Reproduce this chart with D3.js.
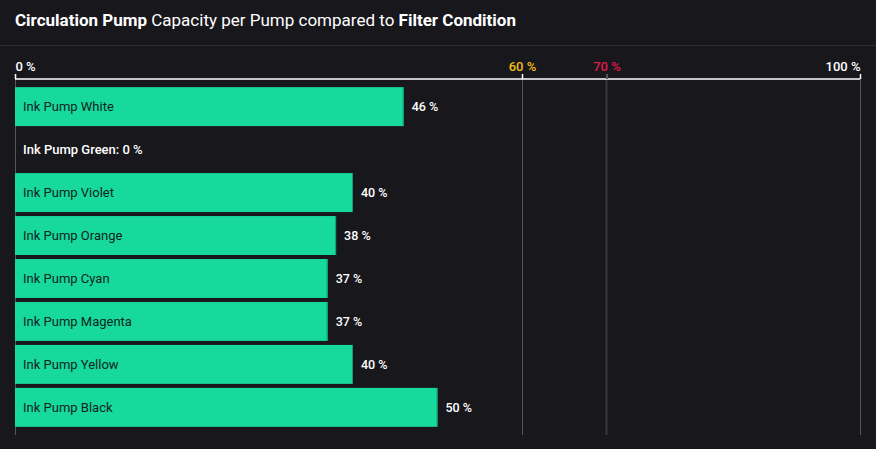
<!DOCTYPE html>
<html><head><meta charset="utf-8">
<script src="https://cdn.jsdelivr.net/npm/d3@7"></script>
<style>
html,body{margin:0;padding:0;background:#18171c;}
svg{display:block;font-family:Roboto,"Noto Sans",sans-serif;}
</style></head><body>
<svg id="c" width="876" height="449"></svg>
<script>
const categories = ["Ink Pump White","Ink Pump Green","Ink Pump Violet","Ink Pump Orange","Ink Pump Cyan","Ink Pump Magenta","Ink Pump Yellow","Ink Pump Black"];
const values = [46, 0, 40, 38, 37, 37, 40, 50];
const tickValues = [0, 60, 70, 100];
const tickLabels = ["0 %", "60 %", "70 %", "100 %"];
const tickColors = ["#ffffff", "#f0bd1a", "#e01a4b", "#ffffff"];

const svg = d3.select("#c");
svg.append("rect").attr("width",876).attr("height",449).attr("fill","#18171c");

// title
const t = svg.append("text").attr("x",15).attr("y",26).attr("fill","#ffffff").attr("font-size",17);
t.append("tspan").attr("font-weight","bold").text("Circulation Pump");
t.append("tspan").text(" Capacity per Pump compared to ");
t.append("tspan").attr("font-weight","bold").text("Filter Condition");
svg.append("line").attr("x1",0).attr("x2",876).attr("y1",45.5).attr("y2",45.5).attr("stroke","#2c2d34").attr("stroke-width",1);

const x = d3.scaleLinear().domain([0,100]).range([15,860]);
const y = d3.scaleBand().domain(categories).range([85,429]).paddingInner(0.093).paddingOuter(0.05);
const axisY = 79;

// gridlines
const grid = svg.append("g");
tickValues.forEach((v,i)=>{
  const xx = Math.round(x(v)) + 0.5;
  grid.append("line").attr("x1",v===70?x(v):xx).attr("x2",v===70?x(v):xx)
    .attr("y1",axisY).attr("y2",435)
    .attr("stroke", v===70 ? "#36363c" : "#55555b")
    .attr("stroke-width", v===70 ? 2 : 1);
});

// bars
const g = svg.append("g");
categories.forEach((c,i)=>{
  const v = values[i];
  const yy = y(c), h = y.bandwidth();
  if (v > 0) {
    g.append("rect").attr("x",x(0)).attr("y",yy).attr("width",x(v)-x(0)).attr("height",h).attr("fill","#16d99b");
    g.append("rect").attr("x",x(v)-1).attr("y",yy).attr("width",1).attr("height",h).attr("fill","#0f9f72");
    g.append("text").attr("x",x(0)+8).attr("y",yy+h/2).attr("dy","0.35em")
      .attr("fill","#10241d").attr("font-size",13).text(c);
    g.append("text").attr("x",x(v)+8).attr("y",yy+h/2).attr("dy","0.35em")
      .attr("fill","#ffffff").attr("font-size",12.5).attr("font-weight",500).text(v+" %");
  } else {
    g.append("text").attr("x",x(0)+8).attr("y",yy+h/2).attr("dy","0.35em")
      .attr("fill","#ffffff").attr("font-size",13).attr("font-weight",500).text(c+": "+v+" %");
  }
});

// axis
const axis = d3.axisTop(x).tickValues(tickValues).tickSize(5).tickFormat((d,i)=>tickLabels[i]);
const ag = svg.append("g").attr("transform",`translate(0,${axisY})`).call(axis);
ag.select(".domain").attr("stroke","#ffffff").attr("stroke-width",1.5).attr("d",`M${x(0)},0H${x(100)}`);
ag.selectAll(".tick line").attr("stroke",(d)=>d===70?"#55555b":"#ffffff").attr("stroke-width",(d)=>d===70?2:1.5);
ag.selectAll(".tick text").attr("font-size",13).attr("font-weight",500).attr("font-family","Roboto,sans-serif")
  .attr("y",-8)
  .attr("fill",(d,i)=>tickColors[i])
  .attr("text-anchor",(d)=>d===0?"start":(d===100?"end":"middle"));
</script>
</body></html>
